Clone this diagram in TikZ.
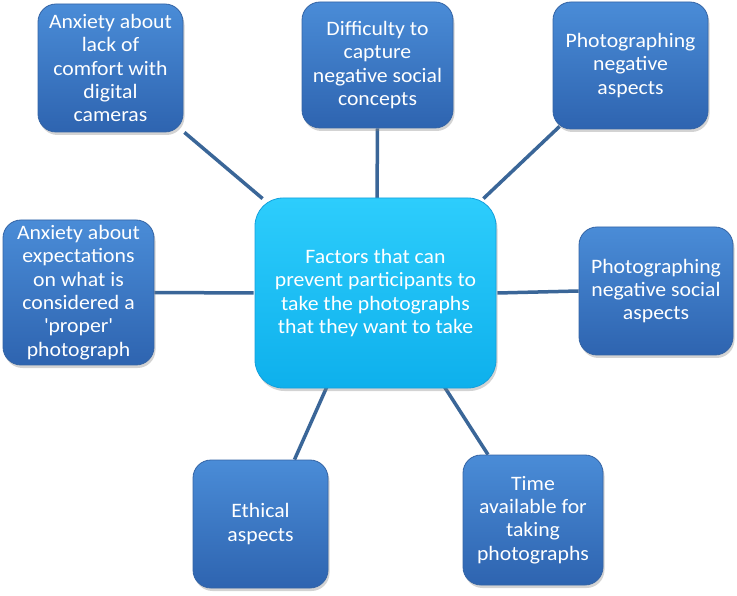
\documentclass[tikz,border=0pt]{standalone}
\usepackage{fontspec}
\setmainfont{Carlito}[FakeStretch=1.06]
\usetikzlibrary{shadows,backgrounds}
\definecolor{boxtop}{RGB}{74,140,215}
\definecolor{boxbot}{RGB}{46,100,176}
\definecolor{boxedge}{RGB}{52,100,165}
\definecolor{ctop}{RGB}{45,205,252}
\definecolor{cbot}{RGB}{14,176,236}
\definecolor{cedge}{RGB}{20,160,220}
\definecolor{linkcol}{RGB}{58,102,152}
\tikzset{
  leaf/.style={draw=boxedge, line width=0.8pt, rounded corners=18pt,
    top color=boxtop, bottom color=boxbot, text=white, align=center,
    font=\fontsize{20.5}{23.3}\selectfont, inner sep=0pt,
    drop shadow={opacity=0.35, shadow xshift=1.5pt, shadow yshift=-3pt}},
  hub/.style={draw=cedge, line width=0.8pt, rounded corners=28pt,
    top color=ctop, bottom color=cbot, text=white, align=center,
    font=\fontsize{20.5}{23.3}\selectfont, inner sep=0pt,
    drop shadow={opacity=0.35, shadow xshift=1.5pt, shadow yshift=-3pt}},
  link/.style={draw=linkcol, line width=3.5pt}
}
\begin{document}
\begin{tikzpicture}[x=1pt,y=-1pt]
\useasboundingbox (0,0) rectangle (737,596);
\node[hub, minimum width=241pt, minimum height=190pt] (c) at (375.5,293)
  {Factors that can\\prevent participants to\\take the photographs\\that they want to take};
\node[leaf, minimum width=145pt, minimum height=128pt] (tl) at (110.5,68)
  {Anxiety about\\lack of\\comfort with\\digital\\cameras};
\node[leaf, minimum width=151pt, minimum height=126pt] (tm) at (377.5,65)
  {Difficulty to\\capture\\negative social\\concepts};
\node[leaf, minimum width=155pt, minimum height=127pt] (tr) at (630.5,65.5)
  {Photographing\\negative\\aspects};
\node[leaf, minimum width=151pt, minimum height=145pt] (l) at (78.5,292.5)
  {Anxiety about\\expectations\\on what is\\considered a\\\textquotesingle proper\textquotesingle\\photograph};
\node[leaf, minimum width=154pt, minimum height=128pt] (r) at (656,291)
  {Photographing\\negative social\\aspects};
\node[leaf, minimum width=135pt, minimum height=128pt] (bl) at (260.5,524)
  {Ethical\\aspects};
\node[leaf, minimum width=140pt, minimum height=130pt] (br) at (533,520)
  {Time\\available for\\taking\\photographs};
\begin{scope}[on background layer]
\draw[link] ([xshift=1pt]tl.south east) -- ([xshift=8pt,yshift=-1pt]c.north west);
\draw[link] (tm.south) -- ([xshift=1.5pt,yshift=-1pt]c.north);
\draw[link] ([xshift=7pt,yshift=3pt]tr.south west) -- ([xshift=-13pt,yshift=-1pt]c.north east);
\draw[link] (l.east) -- ([xshift=-1pt]c.west);
\draw[link] ([xshift=1pt]c.east) -- (r.west);
\draw[link] ([xshift=-48pt,yshift=3pt]c.south) -- ([xshift=34pt]bl.north);
\draw[link] ([xshift=68pt,yshift=3pt]c.south) -- ([xshift=-45pt]br.north);
\end{scope}
\end{tikzpicture}
\end{document}
